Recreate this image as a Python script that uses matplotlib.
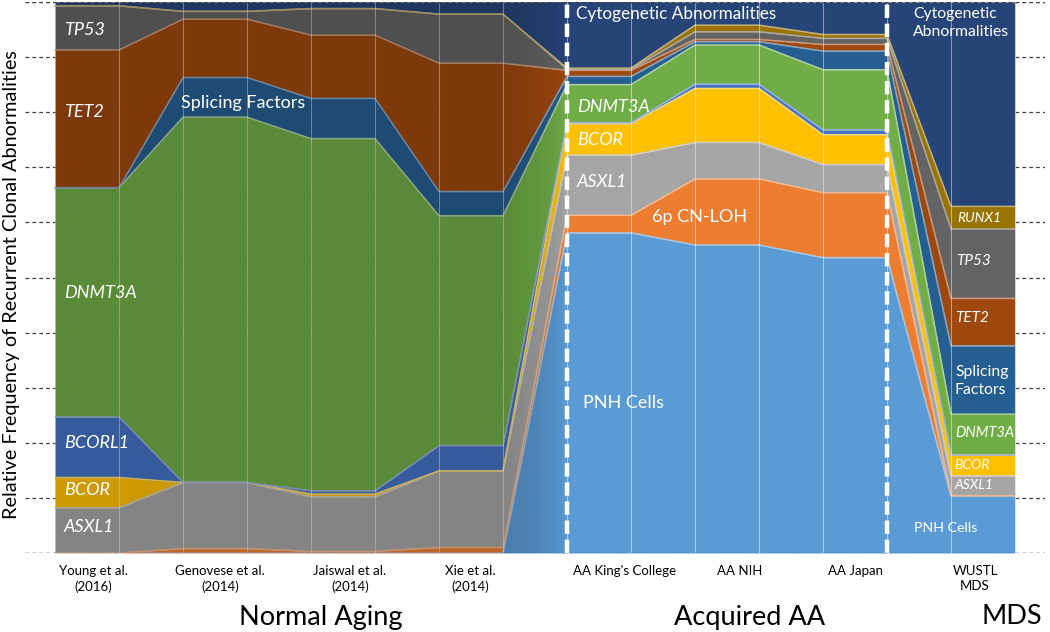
import numpy as np
import matplotlib
matplotlib.use("Agg")
import matplotlib.pyplot as plt
from matplotlib.colors import to_rgb

plt.rcParams['font.family'] = ['Lato', 'DejaVu Sans']

# each study is plotted as two points (flat plateau), like the original sheet
studies = ["Young et al.\n(2016)", "Genovese et al.\n(2014)", "Jaiswal et al.\n(2014)", "Xie et al.\n(2014)",
           "AA King's College", "AA NIH", "AA Japan", "WUSTL\nMDS"]
groups = ["Normal Aging", "Acquired AA", "MDS"]

series_names = ["PNH Cells", "6p CN-LOH", "ASXL1", "BCOR", "BCORL1", "DNMT3A",
                "Splicing Factors", "TET2", "TP53", "RUNX1", "Cytogenetic Abnormalities"]

pnh      = [0.0, 0.0, 0.0, 0.0, 58.1, 55.9, 53.6, 10.4]
cnloh    = [0.0, 0.8, 0.3, 1.0, 3.2, 12.0, 11.8, 0.0]
asxl1    = [8.2, 12.0, 9.9, 13.9, 10.9, 6.6, 5.1, 3.6]
bcor     = [5.5, 0.0, 0.5, 0.0, 5.7, 9.8, 5.4, 3.8]
bcorl1   = [11.0, 0.0, 0.6, 4.6, 0.2, 0.8, 0.9, 0.0]
dnmt3a   = [41.6, 66.3, 63.9, 41.7, 6.9, 7.1, 10.9, 7.4]
splicing = [0.0, 7.2, 7.3, 4.4, 1.5, 0.6, 3.4, 12.4]
tet2     = [25.0, 10.6, 11.5, 23.3, 1.1, 0.4, 1.2, 8.6]
tp53     = [8.0, 1.4, 4.8, 8.9, 0.2, 1.4, 1.1, 12.6]
runx1    = [0.0, 0.0, 0.0, 0.0, 0.2, 1.2, 0.7, 4.1]
cyto     = [0.7, 1.7, 1.2, 2.2, 12.1, 4.2, 5.9, 37.1]

colors = ["#5B9BD5", "#ED7D31", "#A5A5A5", "#FFC000", "#4472C4", "#70AD47",
          "#255E91", "#9E480E", "#636363", "#997300", "#264478"]

data = [pnh, cnloh, asxl1, bcor, bcorl1, dnmt3a, splicing, tet2, tp53, runx1, cyto]
x = np.arange(len(studies) * 2)

fig = plt.figure(figsize=(10.5, 6.32), dpi=100)
ax = fig.add_axes([25 / 1050, 79 / 632, 1020 / 1050, 551 / 632])

# dashed gridlines (hidden behind the areas)
for g in range(0, 101, 10):
    ax.axhline(g, color="#404040", lw=0.9, ls=(0, (3, 2.5)), zorder=0)

base = np.zeros(len(x))
for vals, col in zip(data, colors):
    top = base + np.repeat(vals, 2)
    ax.fill_between(x, base, top, color=col, lw=0, zorder=2)
    edge = 0.55 * np.array(to_rgb(col)) + 0.45
    ax.plot(x, top, color=edge, lw=1.1, zorder=3)
    base = top

for xi in x:
    ax.axvline(xi, color="white", lw=0.8, alpha=0.45, zorder=4)

# darker shading over the normal aging block
shade = np.zeros((1, 200, 4))
xs = np.linspace(0, 8, 200)
shade[0, :, 3] = np.where(xs <= 7, 0.2, 0.2 * (8 - xs) ** 0.5)
ax.imshow(shade, extent=(0, 8, 0, 100), aspect="auto", interpolation="bilinear", zorder=5)

for xd in (8, 13):
    ax.plot([xd, xd], [0, 100], color="white", lw=3.2, ls=(0, (3, 1.3)), zorder=6)

for g in (0, 100):
    ax.axhline(g, color="#404040", lw=0.9, ls=(0, (3, 2.5)), zorder=7)

ax.set_xlim(-30 / 64, 15 + 30 / 64)
ax.set_ylim(0, 100)
ax.axis("off")

# labels inside areas
def lab(px, py, s, size=13, style="italic", ha="left"):
    ax.text((px - 55) / 64, (553 - py) / 5.51, s, color="white", fontsize=size,
            fontstyle=style, ha=ha, va="center", zorder=8, linespacing=1.3)

lab(64, 30, "TP53")
lab(64, 112, "TET2")
lab(181, 103, "Splicing Factors", style="normal")
lab(64, 293, "DNMT3A")
lab(64, 443, "BCORL1")
lab(64, 490, "BCOR")
lab(64, 527, "ASXL1")

lab(576, 14, "Cytogenetic Abnormalities", size=12.3, style="normal")
lab(577, 107, "DNMT3A")
lab(577, 140, "BCOR")
lab(577, 182, "ASXL1")
lab(652, 217, "6p CN-LOH", style="normal")
lab(583, 403, "PNH Cells", style="normal")

lab(913, 23, "Cytogenetic\nAbnormalities", size=11.3, style="normal")
lab(957, 218, "RUNX1", size=10)
lab(956, 261, "TP53", size=11)
lab(955, 318, "TET2", size=11)
lab(955, 381, "Splicing\nFactors", size=11.3, style="normal")
lab(955, 433, "DNMT3A", size=10.5)
lab(954, 465, "BCOR", size=10)
lab(954, 485, "ASXL1", size=10)
lab(914, 528, "PNH Cells", size=10.3, style="normal")

# category and group labels
label_px = [93, 220, 350, 470, 625, 740, 856, 975]
for s, px in zip(studies, label_px):
    ax.text((px - 55) / 64, -2.2, s, fontsize=9.5, ha="center", va="top", linespacing=1.3)
for s, px in zip(groups, [321, 750, 1012]):
    ax.text((px - 55) / 64, (553 - 617) / 5.51, s, fontsize=19.5, ha="center", va="center")

fig.text(12 / 1050, 1 - 285 / 632, "Relative Frequency of Recurrent Clonal Abnormalities",
         rotation=90, fontsize=14.3, ha="center", va="center")

fig.savefig("out.png", dpi=100)
